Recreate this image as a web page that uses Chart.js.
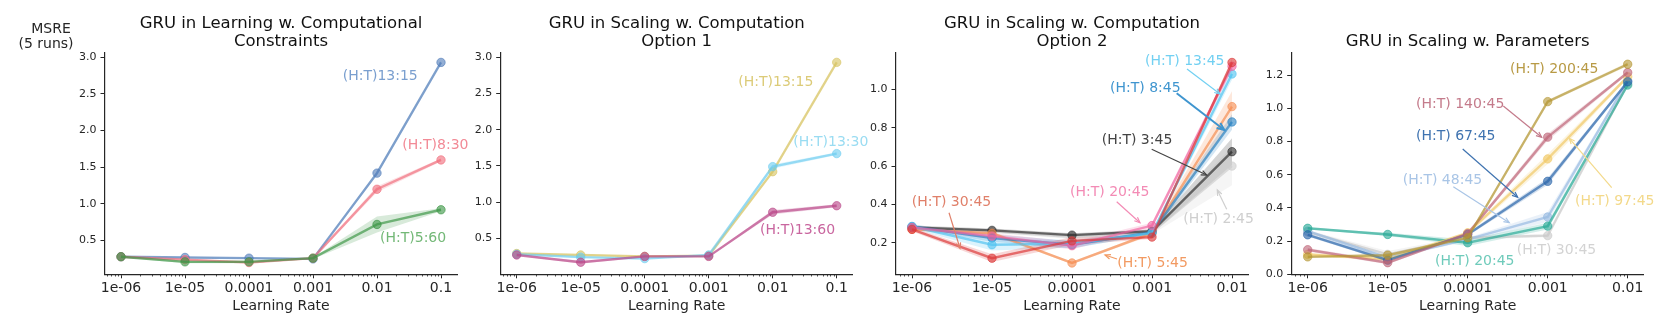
<!DOCTYPE html>
<html>
<head>
<meta charset="utf-8">
<script src="https://cdn.jsdelivr.net/npm/chart.js@4.4.1/dist/chart.umd.min.js"></script>
<style>
  body { margin: 0; background: #fff; width: 1661px; height: 332px; overflow: hidden; position: relative; }
  canvas { position: absolute; left: 0; top: 0; }
</style>
</head>
<body>
<canvas id="p1" width="1661" height="332"></canvas>
<canvas id="p2" width="1661" height="332"></canvas>
<canvas id="p3" width="1661" height="332"></canvas>
<canvas id="p4" width="1661" height="332"></canvas>
<script>
// learning rates (x categories) and tick labels
const lrSix = [1e-6, 1e-5, 1e-4, 1e-3, 1e-2, 1e-1];
const lrFive = [1e-6, 1e-5, 1e-4, 1e-3, 1e-2];
const lrLabels = ['1e-06', '1e-05', '0.0001', '0.001', '0.01', '0.1'];
const yTicksBig = [0.5, 1.0, 1.5, 2.0, 2.5, 3.0];
const yTicksOpt2 = [0.2, 0.4, 0.6, 0.8, 1.0];
const yTicksParams = [0.0, 0.2, 0.4, 0.6, 0.8, 1.0, 1.2];

// panel 1: learning w. computational constraints (mean, spread over 5 runs)
const learn13_15 = [0.28, 0.27, 0.26, 0.25, 1.42, 2.93];
const learn13_15sd = [0.01, 0.01, 0.01, 0.01, 0.03, 0.02];
const learn8_30 = [0.28, 0.24, 0.20, 0.26, 1.20, 1.60];
const learn8_30sd = [0.01, 0.015, 0.01, 0.01, 0.04, 0.02];
const learn5_60 = [0.28, 0.21, 0.21, 0.26, 0.72, 0.92];
const learn5_60sd = [0.01, 0.02, 0.02, 0.01, 0.11, 0.02];

// panel 2: scaling w. computation, option 1
const opt1_13_15 = [0.29, 0.27, 0.25, 0.26, 1.42, 2.93];
const opt1_13_15sd = [0.01, 0.01, 0.01, 0.01, 0.02, 0.02];
const opt1_13_30 = [0.28, 0.24, 0.22, 0.27, 1.49, 1.67];
const opt1_13_30sd = [0.01, 0.01, 0.01, 0.01, 0.03, 0.02];
const opt1_13_60 = [0.27, 0.17, 0.25, 0.25, 0.86, 0.95];
const opt1_13_60sd = [0.01, 0.02, 0.01, 0.01, 0.03, 0.02];

// panel 3: scaling w. computation, option 2
const opt2_2_45 = [0.28, 0.26, 0.23, 0.255, 0.60];
const opt2_2_45sd = [0.01, 0.01, 0.01, 0.01, 0.10];
const opt2_3_45 = [0.28, 0.265, 0.24, 0.26, 0.675];
const opt2_3_45sd = [0.01, 0.01, 0.01, 0.01, 0.07];
const opt2_5_45 = [0.27, 0.25, 0.095, 0.25, 0.91];
const opt2_5_45sd = [0.005, 0.01, 0.005, 0.01, 0.08];
const opt2_8_45 = [0.285, 0.225, 0.19, 0.255, 0.83];
const opt2_8_45sd = [0.01, 0.02, 0.02, 0.01, 0.04];
const opt2_13_45 = [0.285, 0.19, 0.195, 0.25, 1.08];
const opt2_13_45sd = [0.01, 0.03, 0.02, 0.01, 0.03];
const opt2_20_45 = [0.28, 0.235, 0.185, 0.29, 1.12];
const opt2_20_45sd = [0.01, 0.015, 0.02, 0.015, 0.02];
const opt2_30_45 = [0.27, 0.12, 0.21, 0.23, 1.14];
const opt2_30_45sd = [0.01, 0.02, 0.02, 0.01, 0.02];

// panel 4: scaling w. parameters
const par20_45 = [0.277, 0.24, 0.19, 0.29, 1.14];
const par20_45sd = [0.005, 0.01, 0.02, 0.02, 0.01];
const par30_45 = [0.255, 0.12, 0.22, 0.233, 1.15];
const par30_45sd = [0.01, 0.02, 0.01, 0.01, 0.01];
const par48_45 = [0.26, 0.10, 0.21, 0.345, 1.165];
const par48_45sd = [0.01, 0.01, 0.01, 0.03, 0.01];
const par67_45 = [0.238, 0.085, 0.24, 0.56, 1.16];
const par67_45sd = [0.01, 0.01, 0.01, 0.02, 0.01];
const par97_45 = [0.12, 0.09, 0.25, 0.695, 1.19];
const par97_45sd = [0.01, 0.01, 0.01, 0.03, 0.01];
const par140_45 = [0.148, 0.07, 0.245, 0.826, 1.215];
const par140_45sd = [0.01, 0.01, 0.01, 0.02, 0.01];
const par200_45 = [0.105, 0.115, 0.22, 1.04, 1.265];
const par200_45sd = [0.005, 0.01, 0.01, 0.01, 0.01];

const FONT = "'DejaVu Sans', sans-serif";
const INK = '#262626';
const rgba = (c, a) => `rgba(${c[0]},${c[1]},${c[2]},${a})`;

// panel boxes (page pixels)
const TOP = 52.3, BOTTOM = 274.3, W = 352;

// draws titles, y-label, minor ticks and the text annotations
const decor = {
  id: 'decor',
  afterDraw(chart, args, o) {
    const ctx = chart.ctx, ca = chart.chartArea, xs = chart.scales.x;
    ctx.save();
    // minor log ticks
    ctx.strokeStyle = INK; ctx.lineWidth = 0.8;
    for (let d = -7; d <= 0; d++) {
      for (let k = 2; k <= 9; k++) {
        const v = k * Math.pow(10, d);
        if (v < xs.min || v > xs.max) continue;
        const px = Math.round(xs.getPixelForValue(v)) + 0.5;
        ctx.beginPath(); ctx.moveTo(px, ca.bottom); ctx.lineTo(px, ca.bottom + 2.2); ctx.stroke();
      }
    }
    // title
    ctx.fillStyle = '#111';
    ctx.font = `16.5px ${FONT}`;
    ctx.textAlign = 'center'; ctx.textBaseline = 'alphabetic';
    const cx = (ca.left + ca.right) / 2;
    const lines = o.title;
    lines.forEach((t, i) => ctx.fillText(t, cx, 45.7 - (lines.length - 1 - i) * 18));
    // y label
    if (o.ylabel) {
      ctx.font = `14px ${FONT}`; ctx.textBaseline = 'middle';
      ctx.fillStyle = INK;
      ctx.fillText('MSRE', 51, 29);
      ctx.fillText('(5 runs)', 46, 44);
    }
    // annotations
    ctx.font = `14px ${FONT}`; ctx.textAlign = 'left'; ctx.textBaseline = 'middle';
    o.notes.forEach(n => {
      ctx.fillStyle = n.c;
      ctx.fillText(n.t, n.x, n.y);
      if (n.a) {
        const [x1, y1, x2, y2] = n.a;
        ctx.strokeStyle = n.c; ctx.lineWidth = n.lw || 1.2;
        ctx.beginPath(); ctx.moveTo(x1, y1); ctx.lineTo(x2, y2); ctx.stroke();
        const ang = Math.atan2(y2 - y1, x2 - x1), h = n.lw > 1.5 ? 8 : 6;
        ctx.beginPath();
        ctx.moveTo(x2 - h * Math.cos(ang - 0.4), y2 - h * Math.sin(ang - 0.4));
        ctx.lineTo(x2, y2);
        ctx.lineTo(x2 - h * Math.cos(ang + 0.4), y2 - h * Math.sin(ang + 0.4));
        ctx.stroke();
      }
    });
    ctx.restore();
  }
};

function makePanel(id, p) {
  const datasets = [];
  p.series.forEach((s, k) => {
    datasets.push({
      data: p.lr.map((x, i) => ({ x, y: s.mean[i] - s.sd[i] })),
      borderColor: 'rgba(0,0,0,0)', borderWidth: 0, pointRadius: 0, fill: false, order: 3 - k * 0.001
    });
    datasets.push({
      data: p.lr.map((x, i) => ({ x, y: s.mean[i] + s.sd[i] })),
      borderColor: 'rgba(0,0,0,0)', borderWidth: 0, pointRadius: 0,
      fill: '-1', backgroundColor: rgba(s.c, 0.2), order: 3 - k * 0.001
    });
  });
  p.series.forEach((s, k) => {
    datasets.push({
      data: p.lr.map((x, i) => ({ x, y: s.mean[i] })),
      borderColor: rgba(s.c, 0.68), borderWidth: 2.4,
      pointRadius: 4.2, pointBackgroundColor: rgba(s.c, 0.62), pointBorderColor: rgba(s.c, 0.62), pointBorderWidth: 1,
      fill: false, tension: 0, order: 1 - k * 0.001
    });
  });
  const decades = p.lr.length - 1;
  new Chart(document.getElementById(id), {
    type: 'line',
    data: { datasets },
    options: {
      responsive: false, animation: false, devicePixelRatio: 1,
      layout: { padding: { left: p.left - 40, right: 1661 - p.left - W, top: TOP, bottom: 0 } },
      plugins: { legend: { display: false }, tooltip: { enabled: false }, decor: p.decor },
      scales: {
        x: {
          type: 'logarithmic', bounds: 'data',
          min: Math.pow(10, -6 - decades * 0.05), max: Math.pow(10, -6 + decades * 1.05),
          afterBuildTicks: sc => { sc.ticks = p.lr.map(v => ({ value: v })); },
          afterFit: sc => { sc.height = 332 - BOTTOM; },
          ticks: { callback: (v, i) => lrLabels[i], autoSkip: false, maxRotation: 0, padding: 2,
                   color: INK, font: { family: FONT, size: 14 } },
          grid: { drawOnChartArea: false, tickLength: 4, tickColor: INK, tickWidth: 1 },
          border: { color: INK, width: 1.2 },
          title: { display: true, text: 'Learning Rate', color: INK, font: { family: FONT, size: 14 },
                   padding: { top: 0, bottom: 17.6 } }
        },
        y: {
          type: 'linear', bounds: 'data', min: p.ymin, max: p.ymax,
          afterBuildTicks: sc => { sc.ticks = p.yTicks.map(v => ({ value: v })); },
          afterFit: sc => { sc.width = 40; },
          ticks: { callback: v => v.toFixed(1), padding: 4, color: INK, font: { family: FONT, size: 11 } },
          grid: { drawOnChartArea: false, tickLength: 4.5, tickColor: INK, tickWidth: 1 },
          border: { color: INK, width: 1.2 }
        }
      }
    },
    plugins: [decor]
  });
}

makePanel('p1', {
  left: 105, lr: lrSix, ymin: 0.04, ymax: 3.068, yTicks: yTicksBig,
  series: [
    { mean: learn13_15, sd: learn13_15sd, c: [80, 125, 185] },
    { mean: learn8_30, sd: learn8_30sd, c: [240, 110, 125] },
    { mean: learn5_60, sd: learn5_60sd, c: [60, 150, 70] }
  ],
  decor: {
    ylabel: true,
    title: ['GRU in Learning w. Computational', 'Constraints'],
    notes: [
      { t: '(H:T)13:15', x: 342.7, y: 76, c: '#7a9fcf' },
      { t: '(H:T)8:30', x: 402.3, y: 145, c: '#f28a96' },
      { t: '(H:T)5:60', x: 380, y: 238.3, c: '#73b877' }
    ]
  }
});

makePanel('p2', {
  left: 500.7, lr: lrSix, ymin: 0.003, ymax: 3.069, yTicks: yTicksBig,
  series: [
    { mean: opt1_13_15, sd: opt1_13_15sd, c: [215, 195, 95] },
    { mean: opt1_13_30, sd: opt1_13_30sd, c: [110, 205, 240] },
    { mean: opt1_13_60, sd: opt1_13_60sd, c: [185, 70, 135] }
  ],
  decor: {
    title: ['GRU in Scaling w. Computation', 'Option 1'],
    notes: [
      { t: '(H:T)13:15', x: 738.3, y: 82.3, c: '#dccb78' },
      { t: '(H:T)13:30', x: 793.3, y: 142.3, c: '#9adcf2' },
      { t: '(H:T)13:60', x: 760, y: 230, c: '#c9669f' }
    ]
  }
});

makePanel('p3', {
  left: 896, lr: lrFive, ymin: 0.036, ymax: 1.193, yTicks: yTicksOpt2,
  series: [
    { mean: opt2_2_45, sd: opt2_2_45sd, c: [205, 205, 205] },
    { mean: opt2_3_45, sd: opt2_3_45sd, c: [45, 45, 45] },
    { mean: opt2_5_45, sd: opt2_5_45sd, c: [245, 140, 80] },
    { mean: opt2_8_45, sd: opt2_8_45sd, c: [40, 130, 195] },
    { mean: opt2_13_45, sd: opt2_13_45sd, c: [80, 195, 240] },
    { mean: opt2_20_45, sd: opt2_20_45sd, c: [240, 100, 160] },
    { mean: opt2_30_45, sd: opt2_30_45sd, c: [220, 55, 55] }
  ],
  decor: {
    title: ['GRU in Scaling w. Computation', 'Option 2'],
    notes: [
      { t: '(H:T) 13:45', x: 1145, y: 61, c: '#72d0f2', a: [1187, 69, 1220, 94] },
      { t: '(H:T) 8:45', x: 1110, y: 88.3, c: '#3f95cf', a: [1176.7, 93.3, 1224.3, 130], lw: 2 },
      { t: '(H:T) 3:45', x: 1101.7, y: 140, c: '#444444', a: [1151.7, 149.3, 1206.7, 175] },
      { t: '(H:T) 2:45', x: 1183.3, y: 219.3, c: '#cfcfcf', a: [1226.7, 209.3, 1217.3, 190] },
      { t: '(H:T) 20:45', x: 1070, y: 192.3, c: '#f38bb5', a: [1116.7, 201.7, 1140, 222.7] },
      { t: '(H:T) 30:45', x: 911.7, y: 202.7, c: '#e0806a', a: [949, 212.7, 960, 248.3] },
      { t: '(H:T) 5:45', x: 1117.3, y: 263.3, c: '#f29a62', a: [1117, 259, 1105, 255] }
    ]
  }
});

makePanel('p4', {
  left: 1291.7, lr: lrFive, ymin: 0, ymax: 1.337, yTicks: yTicksParams,
  series: [
    { mean: par30_45, sd: par30_45sd, c: [200, 200, 200] },
    { mean: par48_45, sd: par48_45sd, c: [150, 185, 225] },
    { mean: par20_45, sd: par20_45sd, c: [40, 170, 150] },
    { mean: par97_45, sd: par97_45sd, c: [240, 200, 100] },
    { mean: par67_45, sd: par67_45sd, c: [40, 100, 170] },
    { mean: par140_45, sd: par140_45sd, c: [190, 100, 120] },
    { mean: par200_45, sd: par200_45sd, c: [180, 150, 50] }
  ],
  decor: {
    title: ['GRU in Scaling w. Parameters'],
    notes: [
      { t: '(H:T) 200:45', x: 1510, y: 69.3, c: '#b89a45' },
      { t: '(H:T) 140:45', x: 1416, y: 104.3, c: '#c47b8b', a: [1503.3, 106, 1541.7, 137.3] },
      { t: '(H:T) 67:45', x: 1416, y: 136, c: '#3f73b0', a: [1462.7, 149, 1517.7, 197.3] },
      { t: '(H:T) 48:45', x: 1402.7, y: 180, c: '#a9c5e6', a: [1453.3, 186.7, 1509.3, 222.7] },
      { t: '(H:T) 97:45', x: 1575, y: 201.7, c: '#f3d98a', a: [1611.7, 187.7, 1569.3, 138.3] },
      { t: '(H:T) 30:45', x: 1516.7, y: 250.7, c: '#d3d3d3' },
      { t: '(H:T) 20:45', x: 1435, y: 261, c: '#6fcbbb' }
    ]
  }
});
</script>
</body>
</html>
